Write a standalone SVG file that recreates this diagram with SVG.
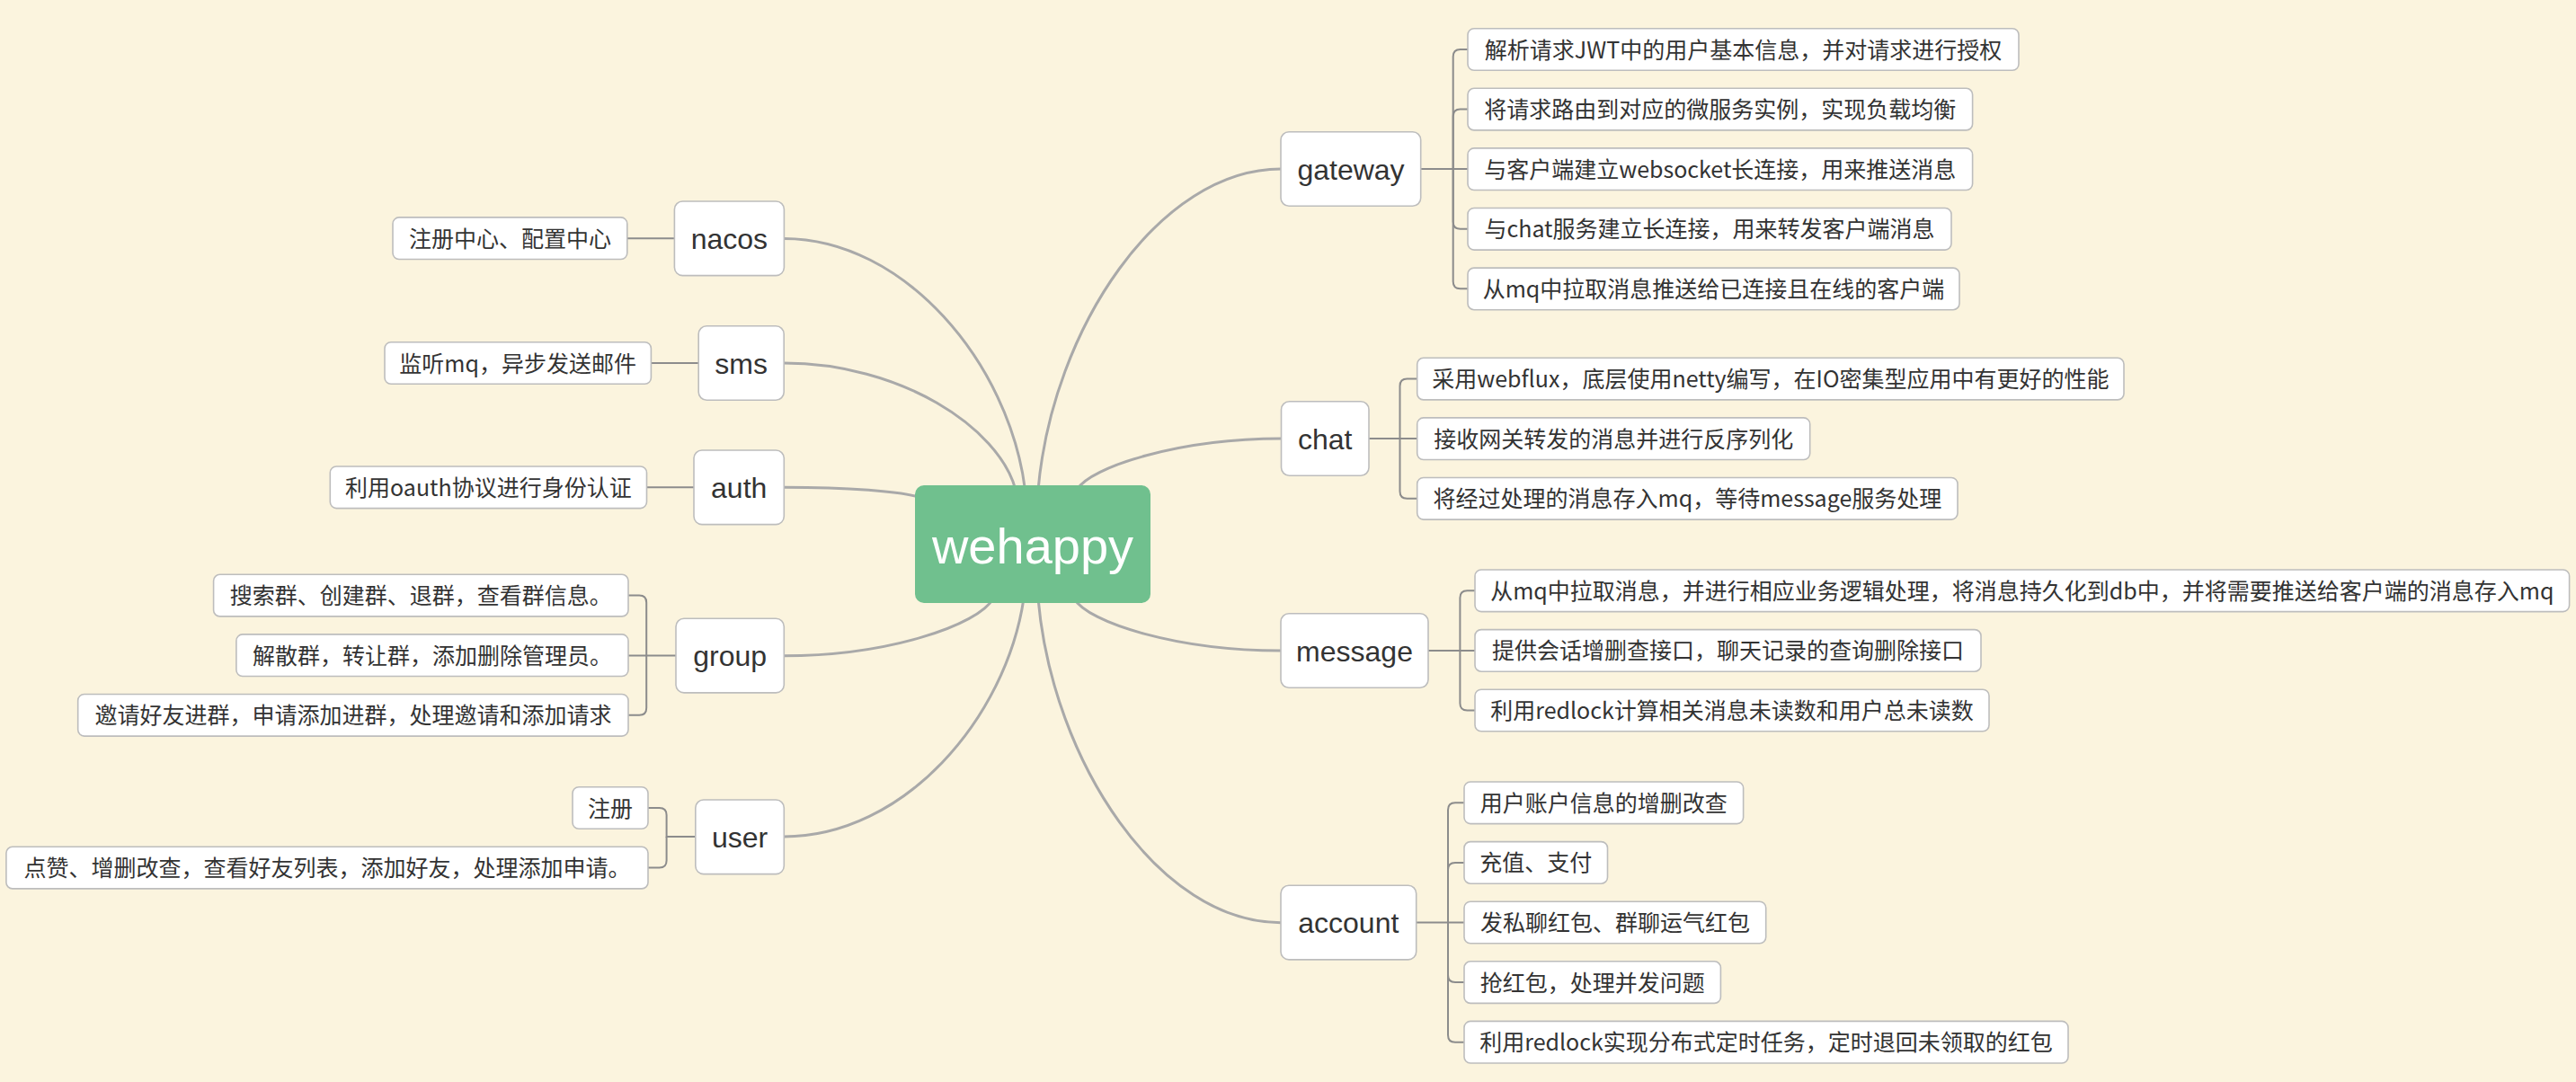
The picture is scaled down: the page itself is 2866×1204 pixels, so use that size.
<svg xmlns="http://www.w3.org/2000/svg" width="2866" height="1204" viewBox="0 0 2866 1204">
<style>
.bg{fill:#fbf4de}
.n1{fill:#fff;stroke:#bdbdbd;stroke-width:1.6}
.n2{fill:#fff;stroke:#bdbdbd;stroke-width:1.6}
.t1{font-family:"Liberation Sans",Arial,sans-serif;font-size:32px;fill:#333;text-anchor:middle}
.t2{font-family:"Noto Sans CJK SC","Noto Sans",sans-serif;font-size:25px;fill:#333;text-anchor:middle}
.t0{font-family:"Liberation Sans",Arial,sans-serif;font-size:56px;fill:#fff;text-anchor:middle}
.main{fill:none;stroke:#a9a9a9;stroke-width:3}
.br{fill:none;stroke:#8c8c8c;stroke-width:2}
</style>
<rect class="bg" x="0" y="0" width="2866" height="1204"/>
<g id="connectors">
<path class="main" d="M1140.5 545 C1122.8 404 1006 265.4 872.3 265.4"/>
<path class="main" d="M1130 545 C1111 475 1001 404 872.3 404"/>
<path class="main" d="M1022 553 C1000 547 945 542.2 872.3 542.2"/>
<path class="main" d="M1105 666 C1088.5 695.5 988.5 729.7 872 729.7"/>
<path class="main" d="M1139 666 C1119 800 1005.5 931 872 931"/>
<path class="main" d="M1155 545 C1171 365 1290 188 1425 188"/>
<path class="main" d="M1198 545 C1213 519.6 1311.5 488 1425.5 488"/>
<path class="main" d="M1195 666 C1210.4 693 1310 724 1425 724"/>
<path class="main" d="M1155 666 C1171 848 1290 1026.7 1425 1026.7"/>
<!-- gateway bracket -->
<path class="br" d="M1580.7 188 H1633"/>
<path class="br" d="M1616.7 188 V63 Q1616.7 55 1624.7 55 H1633"/>
<path class="br" d="M1616.7 188 V129.5 Q1616.7 121.5 1624.7 121.5 H1633"/>
<path class="br" d="M1616.7 188 V246.7 Q1616.7 254.7 1624.7 254.7 H1633"/>
<path class="br" d="M1616.7 188 V313.3 Q1616.7 321.3 1624.7 321.3 H1633"/>
<!-- chat bracket -->
<path class="br" d="M1523 488 H1576.7"/>
<path class="br" d="M1557.5 488 V429.6 Q1557.5 421.6 1565.5 421.6 H1576.7"/>
<path class="br" d="M1557.5 488 V546.8 Q1557.5 554.8 1565.5 554.8 H1576.7"/>
<!-- message bracket -->
<path class="br" d="M1589 724 H1641"/>
<path class="br" d="M1624.4 724 V665.3 Q1624.4 657.3 1632.4 657.3 H1641"/>
<path class="br" d="M1624.4 724 V782.5 Q1624.4 790.5 1632.4 790.5 H1641"/>
<!-- account bracket -->
<path class="br" d="M1575.7 1026.6 H1629"/>
<path class="br" d="M1611 1026.6 V901.3 Q1611 893.3 1619 893.3 H1629"/>
<path class="br" d="M1611 1026.6 V967.9 Q1611 959.9 1619 959.9 H1629"/>
<path class="br" d="M1611 1026.6 V1085.1 Q1611 1093.1 1619 1093.1 H1629"/>
<path class="br" d="M1611 1026.6 V1151.7 Q1611 1159.7 1619 1159.7 H1629"/>
<!-- left side -->
<path class="br" d="M697.8 265.2 H750.4"/>
<path class="br" d="M724.4 404 H777.2"/>
<path class="br" d="M719.5 542.3 H772"/>
<path class="br" d="M752 729.5 H699"/>
<path class="br" d="M719.2 729.5 V670.6 Q719.2 662.6 711.2 662.6 H699"/>
<path class="br" d="M719.2 729.5 V787.8 Q719.2 795.8 711.2 795.8 H699"/>
<path class="br" d="M773.8 931 H741.6 V907 Q741.6 899 733.6 899 H721"/>
<path class="br" d="M741.6 931 V957.6 Q741.6 965.6 733.6 965.6 H721"/>
</g>
<g id="wehappy">
<rect x="1018" y="540" width="262" height="131" rx="10" fill="#70c08e"/>
<text class="t0" x="1149" y="627">wehappy</text>
</g>
<g id="gateway">
<rect class="n1" x="1425" y="146.7" width="155.7" height="82.6" rx="9"/>
<text class="t1" x="1503" y="199.5">gateway</text>
</g>
<g id="chat">
<rect class="n1" x="1425.5" y="446.7" width="97.5" height="82.6" rx="9"/>
<text class="t1" x="1474.2" y="499.5">chat</text>
</g>
<g id="message">
<rect class="n1" x="1425" y="682.7" width="164" height="82.6" rx="9"/>
<text class="t1" x="1507" y="735.5">message</text>
</g>
<g id="account">
<rect class="n1" x="1425" y="985.3" width="150.7" height="82.6" rx="9"/>
<text class="t1" x="1500.3" y="1038">account</text>
</g>
<g id="nacos">
<rect class="n1" x="750.4" y="224" width="122" height="82.6" rx="9"/>
<text class="t1" x="811.4" y="276.8">nacos</text>
</g>
<g id="sms">
<rect class="n1" x="777.2" y="362.7" width="95" height="82.6" rx="9"/>
<text class="t1" x="824.7" y="415.5">sms</text>
</g>
<g id="auth">
<rect class="n1" x="772" y="501" width="100.3" height="82.6" rx="9"/>
<text class="t1" x="822.2" y="553.8">auth</text>
</g>
<g id="group">
<rect class="n1" x="752" y="688.3" width="120.3" height="82.6" rx="9"/>
<text class="t1" x="812.1" y="741">group</text>
</g>
<g id="user">
<rect class="n1" x="773.8" y="890" width="98.5" height="82.6" rx="9"/>
<text class="t1" x="823" y="942.8">user</text>
</g>
<g id="gateway-1"><rect class="n2" x="1633" y="31.7" width="613" height="46.6" rx="7"/><text class="t2" x="1939.5" y="64.5">解析请求JWT中的用户基本信息，并对请求进行授权</text></g>
<g id="gateway-2"><rect class="n2" x="1633" y="98.3" width="561.6" height="46.6" rx="7"/><text class="t2" x="1913.8" y="131">将请求路由到对应的微服务实例，实现负载均衡</text></g>
<g id="gateway-3"><rect class="n2" x="1633" y="164.9" width="561.6" height="46.6" rx="7"/><text class="t2" x="1913.8" y="197.7">与客户端建立websocket长连接，用来推送消息</text></g>
<g id="gateway-4"><rect class="n2" x="1633" y="231.5" width="538" height="46.6" rx="7"/><text class="t2" x="1902" y="264.3">与chat服务建立长连接，用来转发客户端消息</text></g>
<g id="gateway-5"><rect class="n2" x="1633" y="298.1" width="547" height="46.6" rx="7"/><text class="t2" x="1906.5" y="330.9">从mq中拉取消息推送给已连接且在线的客户端</text></g>
<g id="chat-1"><rect class="n2" x="1576.7" y="398.3" width="786.3" height="46.6" rx="7"/><text class="t2" x="1969.9" y="431.1">采用webflux，底层使用netty编写，在IO密集型应用中有更好的性能</text></g>
<g id="chat-2"><rect class="n2" x="1576.7" y="464.9" width="437" height="46.6" rx="7"/><text class="t2" x="1795.2" y="497.7">接收网关转发的消息并进行反序列化</text></g>
<g id="chat-3"><rect class="n2" x="1576.7" y="531.5" width="601.3" height="46.6" rx="7"/><text class="t2" x="1877.4" y="564.3">将经过处理的消息存入mq，等待message服务处理</text></g>
<g id="message-1"><rect class="n2" x="1641" y="634" width="1217.6" height="46.6" rx="7"/><text class="t2" x="2249.8" y="666.8">从mq中拉取消息，并进行相应业务逻辑处理，将消息持久化到db中，并将需要推送给客户端的消息存入mq</text></g>
<g id="message-2"><rect class="n2" x="1641" y="700.6" width="563" height="46.6" rx="7"/><text class="t2" x="1922.5" y="733.4">提供会话增删查接口，聊天记录的查询删除接口</text></g>
<g id="message-3"><rect class="n2" x="1641" y="767.2" width="572" height="46.6" rx="7"/><text class="t2" x="1927" y="800">利用redlock计算相关消息未读数和用户总未读数</text></g>
<g id="account-1"><rect class="n2" x="1629" y="870" width="310.6" height="46.6" rx="7"/><text class="t2" x="1784.3" y="902.8">用户账户信息的增删改查</text></g>
<g id="account-2"><rect class="n2" x="1629" y="936.6" width="159.5" height="46.6" rx="7"/><text class="t2" x="1708.8" y="969.4">充值、支付</text></g>
<g id="account-3"><rect class="n2" x="1629" y="1003.2" width="335.7" height="46.6" rx="7"/><text class="t2" x="1796.9" y="1036">发私聊红包、群聊运气红包</text></g>
<g id="account-4"><rect class="n2" x="1629" y="1069.8" width="285.4" height="46.6" rx="7"/><text class="t2" x="1771.7" y="1102.6">抢红包，处理并发问题</text></g>
<g id="account-5"><rect class="n2" x="1629" y="1136.4" width="672" height="46.6" rx="7"/><text class="t2" x="1965" y="1169.2">利用redlock实现分布式定时任务，定时退回未领取的红包</text></g>
<g id="nacos-1"><rect class="n2" x="437" y="241.9" width="260.8" height="46.6" rx="7"/><text class="t2" x="567.4" y="274.7">注册中心、配置中心</text></g>
<g id="sms-1"><rect class="n2" x="428" y="380.7" width="296.4" height="46.6" rx="7"/><text class="t2" x="576.2" y="413.5">监听mq，异步发送邮件</text></g>
<g id="auth-1"><rect class="n2" x="367.3" y="519" width="352.2" height="46.6" rx="7"/><text class="t2" x="543.4" y="551.8">利用oauth协议进行身份认证</text></g>
<g id="group-1"><rect class="n2" x="237.6" y="639.3" width="461.4" height="46.6" rx="7"/><text class="t2" x="468.3" y="672.1">搜索群、创建群、退群，查看群信息。</text></g>
<g id="group-2"><rect class="n2" x="262.9" y="705.9" width="436.1" height="46.6" rx="7"/><text class="t2" x="481" y="738.7">解散群，转让群，添加删除管理员。</text></g>
<g id="group-3"><rect class="n2" x="86.7" y="772.5" width="612.3" height="46.6" rx="7"/><text class="t2" x="392.9" y="805.3">邀请好友进群，申请添加进群，处理邀请和添加请求</text></g>
<g id="user-1"><rect class="n2" x="637" y="875.7" width="84" height="46.6" rx="7"/><text class="t2" x="679" y="908.5">注册</text></g>
<g id="user-2"><rect class="n2" x="6.9" y="942.3" width="714.1" height="46.6" rx="7"/><text class="t2" x="364" y="975.1">点赞、增删改查，查看好友列表，添加好友，处理添加申请。</text></g>
</svg>
